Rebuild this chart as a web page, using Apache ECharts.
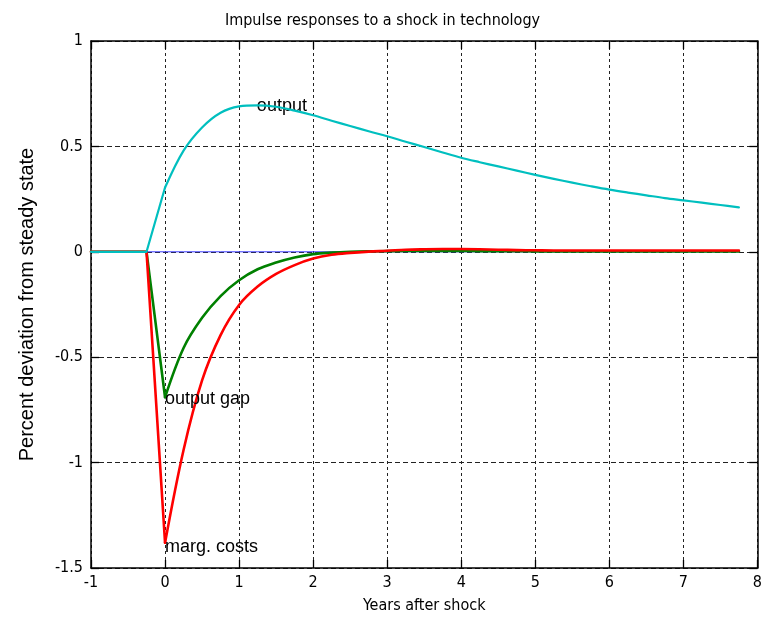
<!DOCTYPE html>
<html>
<head>
<meta charset="utf-8">
<title>Impulse responses to a shock in technology</title>
<script src="https://cdn.jsdelivr.net/npm/echarts@6/dist/echarts.min.js"></script>
<style>
  html, body { margin: 0; padding: 0; background: #fff; }
  #chart { width: 765px; height: 623px; }
</style>
</head>
<body>
<div id="chart"></div>
<script>
// Quarterly horizon, in years after the shock
const years = [-1, -0.75, -0.5, -0.25, 0, 0.25, 0.5, 0.75, 1, 1.25, 1.5, 1.75,
  2, 2.25, 2.5, 2.75, 3, 3.25, 3.5, 3.75, 4, 4.25, 4.5, 4.75,
  5, 5.25, 5.5, 5.75, 6, 6.25, 6.5, 6.75, 7, 7.25, 7.5, 7.75];

// Percent deviation from steady state
const output = [0, 0, 0, 0, 0.305, 0.48, 0.59, 0.66, 0.69, 0.695, 0.688, 0.67,
  0.648, 0.622, 0.597, 0.572, 0.548, 0.522, 0.497, 0.471, 0.446, 0.425, 0.405, 0.385,
  0.365, 0.346, 0.328, 0.311, 0.295, 0.281, 0.268, 0.255, 0.244, 0.233, 0.222, 0.211];

const outputGap = [0, 0, 0, 0, -0.69, -0.456, -0.313, -0.21, -0.135, -0.083, -0.051, -0.027,
  -0.011, -0.004, 0.0, 0.002, 0.003, 0.004, 0.004, 0.004, 0.004, 0.003, 0.003, 0.003,
  0.002, 0.002, 0.002, 0.002, 0.002, 0.002, 0.002, 0.002, 0.002, 0.002, 0.002, 0.002];

const margCosts = [0, 0, 0, 0, -1.38, -0.94, -0.61, -0.395, -0.252, -0.165, -0.105, -0.063,
  -0.032, -0.014, -0.005, 0.001, 0.005, 0.01, 0.012, 0.013, 0.013, 0.012, 0.01, 0.008,
  0.007, 0.006, 0.006, 0.006, 0.006, 0.006, 0.006, 0.006, 0.006, 0.006, 0.006, 0.006];

const zeroLine = [0, 0, 0, 0, 0, 0, 0, 0, 0, 0, 0, 0,
  0, 0, 0, 0, 0, 0, 0, 0, 0, 0, 0, 0,
  0, 0, 0, 0, 0, 0, 0, 0, 0, 0, 0, 0];

const xTicks = { min: -1, max: 8, interval: 1 };
const yTicks = { min: -1.5, max: 1, interval: 0.5 };

// Curve labels placed in data coordinates
const curveLabels = [
  { name: 'output', coord: [1.24, 0.69] },
  { name: 'output gap', coord: [0, -0.70] },
  { name: 'marg. costs', coord: [0, -1.40] }
];

// Index of the impact period (year 0): the path up to it is straight,
// the adjustment after it is drawn as a smooth curve
const impact = years.indexOf(0);

const pairs = ys => years.map((x, i) => [x, ys[i]]);

const narrow = '"DejaVu Sans Condensed", "Liberation Sans", Arial, sans-serif';
const regular = '"Liberation Sans", Arial, sans-serif';

const chart = echarts.init(document.getElementById('chart'), null, { renderer: 'canvas' });

const baseLine = (name, data, color, width, z, smooth) => ({
  name, type: 'line', data, showSymbol: false, symbol: 'none',
  smooth: smooth ? 0.35 : false,
  lineStyle: { color, width, cap: 'round', join: 'round' }, itemStyle: { color }, z, animation: false
});

// One response = straight pre-shock part + smooth post-shock part
const response = (name, ys, color, width, z) => {
  const pts = pairs(ys);
  return [
    baseLine(name, pts.slice(0, impact + 1), color, width, z, false),
    baseLine(name, pts.slice(impact), color, width, z, true)
  ];
};

const outputSeries = response('output', output, '#00bfbf', 2.2, 5);
outputSeries[1].markPoint = {
  symbol: 'circle', symbolSize: 0, silent: true,
  data: curveLabels.map(l => ({ name: l.name, coord: l.coord, value: l.name })),
  label: {
    show: true, position: 'right', distance: 0, formatter: p => p.name,
    fontFamily: regular, fontSize: 18, color: '#000'
  }
};

chart.setOption({
  animation: false,
  title: {
    text: 'Impulse responses to a shock in technology',
    left: 'center', top: 8,
    textStyle: { fontFamily: narrow, fontSize: 16, fontWeight: 'normal', color: '#000' }
  },
  grid: { left: 91, top: 41, right: 6, bottom: 55, show: false },
  xAxis: [{
    type: 'value', min: xTicks.min, max: xTicks.max, interval: xTicks.interval,
    name: 'Years after shock', nameLocation: 'middle', nameGap: 30,
    nameTextStyle: { fontFamily: narrow, fontSize: 16, color: '#000' },
    axisLine: { onZero: false, lineStyle: { color: '#000', width: 1.5 } },
    axisTick: { inside: true, length: 8, lineStyle: { color: '#000', width: 1.3 } },
    axisLabel: { margin: 7, fontFamily: narrow, fontSize: 16, color: '#000' },
    splitLine: { show: true, lineStyle: { color: '#222', width: 1, type: [3, 3] } }
  }, {
    type: 'value', position: 'top', min: xTicks.min, max: xTicks.max, interval: xTicks.interval,
    axisLine: { onZero: false, lineStyle: { color: '#000', width: 1.5 } },
    axisTick: { inside: true, length: 8, lineStyle: { color: '#000', width: 1.3 } },
    axisLabel: { show: false }, splitLine: { show: false }
  }],
  yAxis: [{
    type: 'value', min: yTicks.min, max: yTicks.max, interval: yTicks.interval,
    name: 'Percent deviation from steady state', nameLocation: 'middle', nameGap: 54,
    nameTextStyle: { fontFamily: regular, fontSize: 20, color: '#000' },
    axisLine: { onZero: false, lineStyle: { color: '#000', width: 1.5 } },
    axisTick: { inside: true, length: 8, lineStyle: { color: '#000', width: 1.3 } },
    axisLabel: { margin: 8, fontFamily: narrow, fontSize: 16, color: '#000' },
    splitLine: { show: true, lineStyle: { color: '#222', width: 1, type: [5, 3] } }
  }, {
    type: 'value', position: 'right', min: yTicks.min, max: yTicks.max, interval: yTicks.interval,
    axisLine: { onZero: false, show: true, lineStyle: { color: '#000', width: 1.5 } },
    axisTick: { show: true, inside: true, length: 8, lineStyle: { color: '#000', width: 1.3 } },
    axisLabel: { show: false }, splitLine: { show: false }
  }],
  series: [
    baseLine('zero', pairs(zeroLine), '#3d3dff', 1, 2, false),
    ...response('output gap', outputGap, '#008000', 2.6, 3),
    ...response('marg. costs', margCosts, '#ff0000', 2.6, 4),
    ...outputSeries
  ]
});
</script>
</body>
</html>
